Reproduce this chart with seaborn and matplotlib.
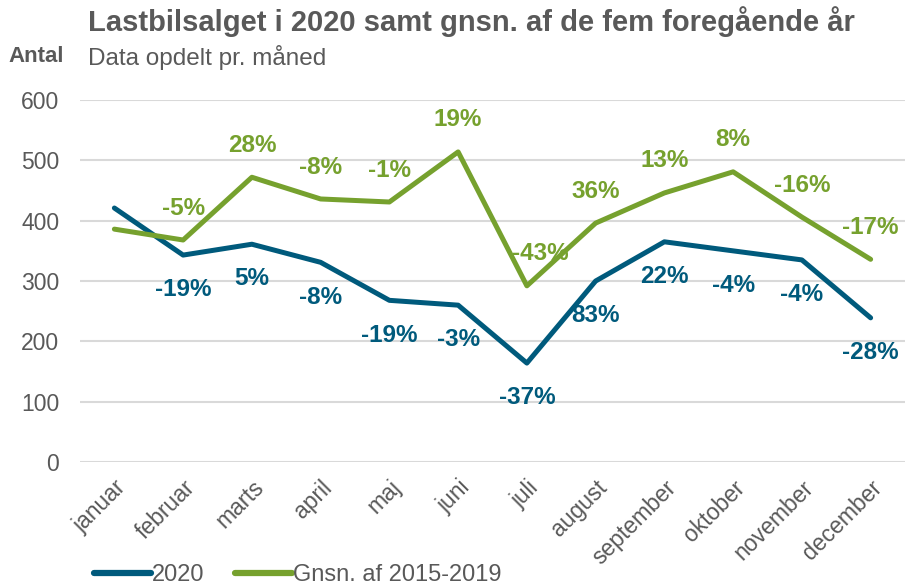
import pandas as pd
import matplotlib.pyplot as plt
import seaborn as sns
from matplotlib.lines import Line2D

# Data
months = ['januar', 'februar', 'marts', 'april', 'maj', 'juni', 'juli',
          'august', 'september', 'oktober', 'november', 'december']
sales_2020 = [421, 343, 361, 331, 268, 260, 164, 300, 365, 350, 335, 239]
avg_2015_2019 = [386, 368, 472, 436, 431, 514, 292, 396, 446, 481, 406, 336]
labels_2020 = ['', '-19%', '5%', '-8%', '-19%', '-3%', '-37%', '83%', '22%', '-4%', '-4%', '-28%']
labels_avg = ['', '-5%', '28%', '-8%', '-1%', '19%', '-43%', '36%', '13%', '8%', '-16%', '-17%']

blue = '#005A7C'
green = '#76A12E'
grey = '#595959'

df = pd.DataFrame({
    'month': months * 2,
    'value': sales_2020 + avg_2015_2019,
    'series': ['2020'] * 12 + ['Gnsn. af 2015-2019'] * 12,
})
df['pos'] = df.groupby('series').cumcount()

sns.set_style('white')
plt.rcParams['font.family'] = ['Liberation Sans', 'DejaVu Sans']

fig = plt.figure(figsize=(9.05, 5.87), dpi=100)
ax = fig.add_axes([0.0884, 0.2129, 0.9116, 0.6167])

sns.lineplot(data=df, x='pos', y='value', hue='series',
             palette={'2020': blue, 'Gnsn. af 2015-2019': green},
             linewidth=3.6, ax=ax, legend=False)

# Data labels: green above the line, blue below
for i in range(len(months)):
    if labels_avg[i]:
        dx = 10 if labels_avg[i] == '-43%' else 0
        ax.annotate(labels_avg[i], (i, avg_2015_2019[i]), xytext=(dx, 23),
                    textcoords='offset points', ha='center', va='center',
                    color=green, fontsize=17.5, fontweight='bold')
    if labels_2020[i]:
        ax.annotate(labels_2020[i], (i, sales_2020[i]), xytext=(0, -25),
                    textcoords='offset points', ha='center', va='center',
                    color=blue, fontsize=17.5, fontweight='bold')

ax.set_xlim(-0.5, 11.5)
ax.set_ylim(0, 600)
ax.set_yticks(range(0, 601, 100))
ax.yaxis.grid(True, color='#D9D9D9', linewidth=1.5)
ax.set_axisbelow(True)
ax.set_xticks(range(12))
ax.set_xticklabels(months, rotation=45, ha='right', rotation_mode='anchor')
ax.tick_params(axis='both', colors=grey, labelsize=16.5, length=0)
ax.tick_params(axis='x', pad=10)
ax.tick_params(axis='y', pad=15)
ax.set_xlabel('')
ax.set_ylabel('')
for s in ax.spines.values():
    s.set_visible(False)

fig.text(88 / 905, 1 - 22 / 587, 'Lastbilsalget i 2020 samt gnsn. af de fem foregående år',
         fontsize=21, fontweight='bold', color=grey, va='center', ha='left')
fig.text(88 / 905, 1 - 57 / 587, 'Data opdelt pr. måned',
         fontsize=17.5, color=grey, va='center', ha='left')
fig.text(8 / 905, 1 - 57 / 587, 'Antal',
         fontsize=16, fontweight='bold', color=grey, va='center', ha='left')

handles = [Line2D([], [], color=blue, linewidth=4.5, solid_capstyle='round'),
           Line2D([], [], color=green, linewidth=4.5, solid_capstyle='round')]
fig.legend(handles, ['2020', 'Gnsn. af 2015-2019'], loc='center left',
           bbox_to_anchor=(0.104, 1 - 575 / 587), ncol=2, frameon=False,
           fontsize=17, labelcolor=grey, handlelength=2.4, handletextpad=0.05,
           columnspacing=1.3, borderaxespad=0, borderpad=0)

fig.savefig('out.png', dpi=100)
